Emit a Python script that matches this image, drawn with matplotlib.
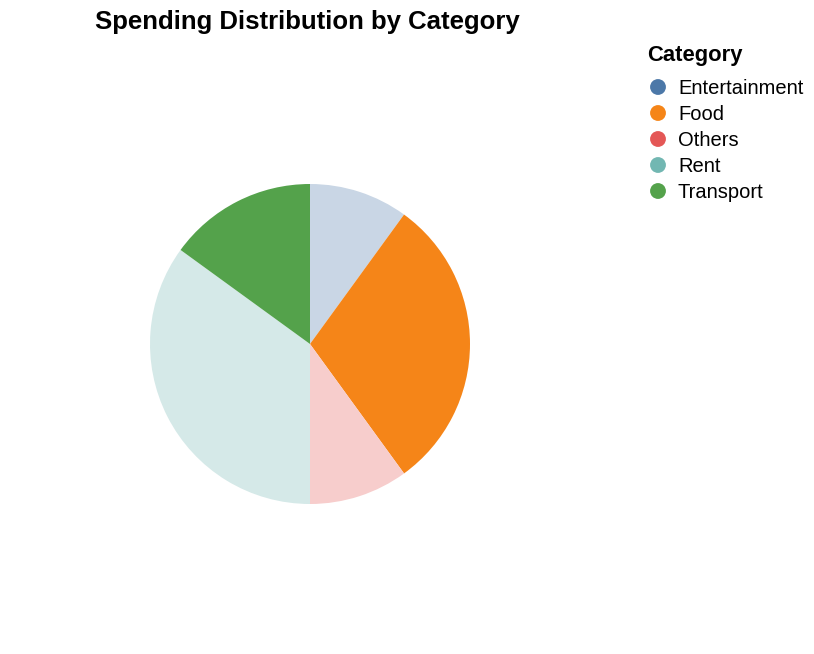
import matplotlib.pyplot as plt
from matplotlib.colors import to_rgb

plt.rcParams['font.family'] = ['Liberation Sans', 'DejaVu Sans']

categories = ['Entertainment', 'Food', 'Others', 'Rent', 'Transport']
shares = [10, 30, 10, 35, 15]
colors = ['#4c78a8', '#f58518', '#e45756', '#72b7b2', '#54a24b']
highlighted = ['Food', 'Transport']


def faded(color, alpha=0.3):
    r, g, b = to_rgb(color)
    return (1 - alpha + alpha * r, 1 - alpha + alpha * g, 1 - alpha + alpha * b)


W, H = 814, 654
fig = plt.figure(figsize=(W / 100, H / 100), dpi=100)

# pie area in pixels: center (310, 344), radius 160
cx, cy, r = 310, 344, 160
ax = fig.add_axes([(cx - r) / W, (H - cy - r) / H, 2 * r / W, 2 * r / H])
slice_colors = [c if cat in highlighted else faded(c) for cat, c in zip(categories, colors)]
ax.pie(shares, colors=slice_colors, startangle=90, counterclock=False,
       radius=1, wedgeprops={'linewidth': 0})
ax.set_xlim(-1, 1)
ax.set_ylim(-1, 1)
ax.set_aspect('equal')
ax.axis('off')

fig.text(95 / W, 1 - 20 / H, 'Spending Distribution by Category',
         fontsize=18.5, fontweight='bold', va='center_baseline', ha='left')

# legend
fig.text(647 / W, 1 - 53 / H, 'Category', fontsize=15.8, fontweight='bold',
         va='center_baseline', ha='left')
leg_ax = fig.add_axes([0, 0, 1, 1], facecolor='none')
leg_ax.set_xlim(0, W)
leg_ax.set_ylim(H, 0)
leg_ax.axis('off')
for i, (cat, c) in enumerate(zip(categories, colors)):
    y = 87 + i * 26
    leg_ax.scatter([658], [y], s=130, color=c, edgecolors='none')
    leg_ax.text(678, y - 1, cat, fontsize=14.5, va='center_baseline', ha='left')

fig.savefig('out.png', dpi=100)
